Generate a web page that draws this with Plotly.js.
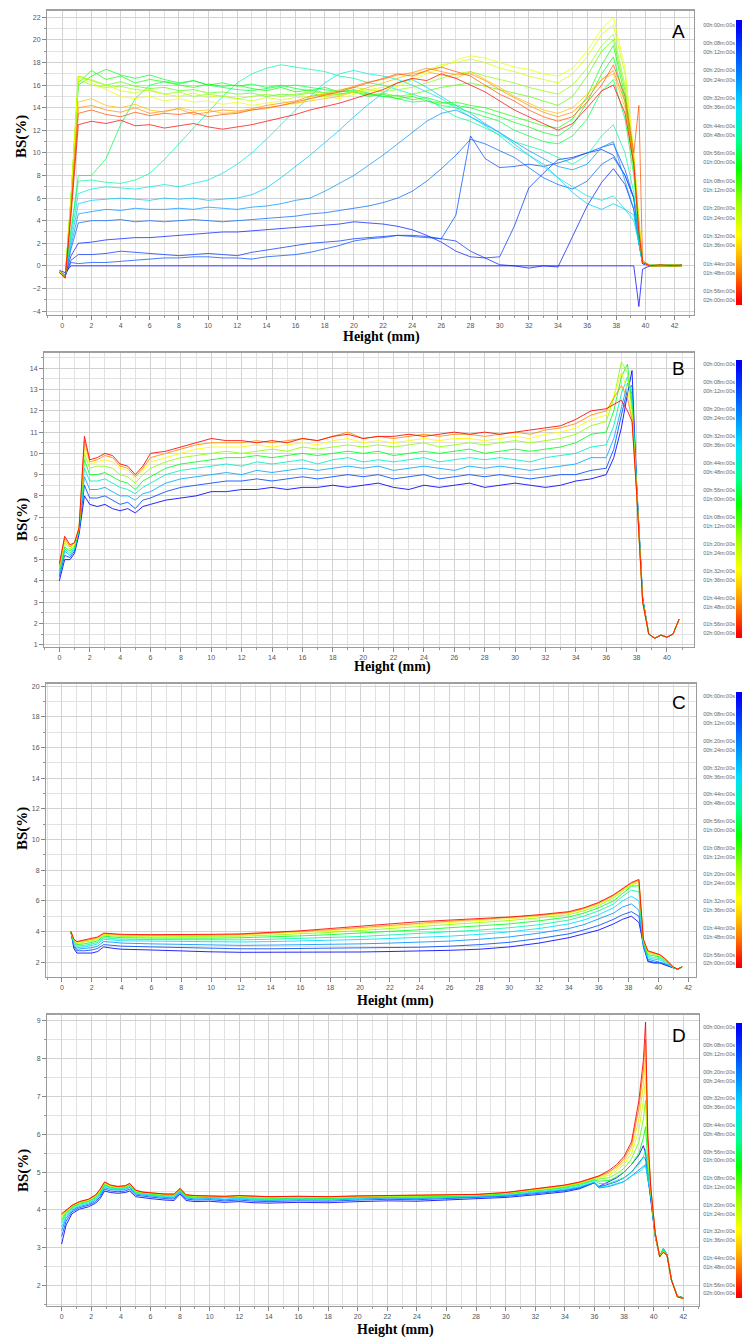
<!DOCTYPE html>
<html><head><meta charset="utf-8">
<script src="https://cdn.plot.ly/plotly-3.0.1.min.js"></script>
<style>html,body{margin:0;padding:0;background:#fff}#chart{width:742px;height:1339px}</style>
</head><body><div id="chart"></div>
<script>
// ---------------- colour-bar legend (time labels, minutes) ----------------
const TIME_LABEL_MIN = [0,8,12,20,24,32,36,44,48,56,60,68,72,80,84,92,96,104,108,116,120];
const TIME_LABELS = ['00h:00m:00s','00h:08m:00s','00h:12m:00s','00h:20m:00s','00h:24m:00s','00h:32m:00s','00h:36m:00s','00h:44m:00s','00h:48m:00s','00h:56m:00s','01h:00m:00s','01h:08m:00s','01h:12m:00s','01h:20m:00s','01h:24m:00s','01h:32m:00s','01h:36m:00s','01h:44m:00s','01h:48m:00s','01h:56m:00s','02h:00m:00s'];

// ---------------- Panel A ----------------
const A_X = [-0.2,0.2,0.6,1.1, 2,3,4,5,6,7,8,9,10,11, 12,13,14,15,16,17,18,19,20,21, 22,23,24,25,26,27,28,29,30,31, 32,33,34,35,36,37, 37.8,38.6,39.2,39.55,39.8,40.3,41,42,42.5];
const A_T = [0,4,8,12,16,24,32,40,48,56,60,64,70,76,84,88,100,106,112,120];
const A_Y_T0 = [-0.4,-0.6,0,0, 0,0,0,0,0,0,0,0,0,0, 0,0,0,0,0,0,0,0,0,0, 0,0,0,0,0,0,0,0,0,0, 0,0,0,0,0,0, 0,0,0,-3.6,-0.3,0,0,0,0];
const A_Y_T4 = [-0.5,-0.8,0.9,2.0, 2.1,2.3,2.4,2.5,2.5,2.6,2.7,2.8,2.9,3.0, 3.0,3.1,3.2,3.3,3.4,3.5,3.6,3.7,3.9,3.8, 3.7,3.5,3.2,2.7,2.1,1.3,0.8,0.7,0.1,0.0, -0.2,0.0,-0.1,2.6,5.3,7.4, 8.6,7.2,5.0,2.0,0.2,0.1,0,0.1,0];
const A_Y_T8 = [-0.5,-0.9,0.5,1.0, 1.0,1.1,1.3,1.2,1.1,1.0,0.9,1.0,1.1,1.0, 0.9,1.2,1.4,1.6,1.8,2.0,2.1,2.2,2.4,2.5, 2.6,2.7,2.7,2.6,2.4,2.2,1.3,0.7,0.8,3.5, 6.9,8.2,9.4,9.6,10.0,10.3, 9.8,8.0,6.0,2.5,0.2,0,0,0.1,0];
const A_Y_T12 = [-0.5,-0.9,0.3,0.2, 0.3,0.3,0.4,0.5,0.6,0.7,0.7,0.8,0.8,0.7, 0.7,0.6,0.8,0.9,1.0,1.2,1.5,1.8,2.2,2.4, 2.5,2.7,2.6,2.5,2.4,4.5,11.5,9.5,8.7,8.8, 9.0,8.8,9.1,9.5,10.0,10.5, 10.8,8.5,6.0,2.5,0.2,0,0.1,0,0];
const A_Y_T16 = [-0.5,-0.9,1.5,3.8, 4.0,4.0,4.1,3.9,4.0,3.9,4.0,4.1,4.0,3.9, 4.0,4.1,4.2,4.3,4.4,4.6,4.7,4.9,5.1,5.3, 5.6,6.0,6.6,7.5,8.6,9.8,11.2,10.8,10.2,9.6, 8.7,7.8,7.2,6.8,7.5,9.0, 9.6,8.0,6.0,2.5,0.3,0,0,0,0.1];
const A_Y_T24 = [-0.5,-0.9,1.8,4.6, 4.8,5.0,4.9,5.1,5.0,5.0,5.1,5.0,5.2,5.1, 5.0,5.2,5.3,5.5,5.8,6.0,6.6,7.3,8.0,8.9, 9.8,10.8,11.8,12.8,13.5,13.8,13.2,12.5,11.8,11.0, 10.2,9.5,8.8,8.5,9.0,10.5, 11.0,7.5,5.0,2.0,0.3,0.1,0,0,0];
const A_Y_T32 = [-0.5,-0.9,2.2,5.5, 5.8,5.9,6.0,5.9,5.8,6.0,5.9,6.0,5.8,5.9, 6.0,6.3,6.9,7.8,8.8,9.8,10.9,12.0,13.2,14.3, 15.3,16.2,16.5,15.8,15.0,14.2,13.5,12.6,11.8,10.8, 9.8,9.0,7.8,6.5,5.5,5.0, 5.5,5.0,4.5,2.0,0.3,0,0,0,0];
const A_Y_T40 = [-0.5,-0.9,2.6,6.4, 6.8,7.0,6.9,6.8,7.0,7.2,7.0,7.3,7.6,8.2, 9.0,10.0,11.2,12.5,13.8,15.0,16.2,17.0,17.3,17.0, 16.8,16.5,16.0,15.4,14.8,14.0,13.2,12.4,11.5,10.5, 9.8,8.8,7.8,7.0,6.2,5.8, 6.2,5.0,4.0,2.0,0.3,0,0,0,0];
const A_Y_T48 = [-0.5,-0.9,3.0,7.5, 7.6,7.4,7.3,7.6,8.2,9.4,10.8,12.2,13.6,15.0, 16.2,17.0,17.5,17.8,17.6,17.4,17.2,16.8,16.6,16.2, 16.0,15.6,15.2,14.8,14.0,13.2,12.8,12.2,11.6,11.0, 10.6,10.2,9.6,9.0,9.8,11.5, 12.5,10.0,6.5,2.5,0.3,0,0,0.1,0];
const A_Y_T56 = [-0.5,-0.9,3.2,8.0, 8.0,9.5,12.5,14.8,16.0,16.3,16.1,16.4,16.0,15.8, 15.6,15.5,15.7,15.9,16.0,15.8,15.6,15.4,15.6,15.3, 15.0,14.8,14.5,14.6,14.2,14.0,13.6,13.2,12.8,12.0, 11.5,11.0,10.8,11.5,13.0,15.5, 16.5,13.0,8.0,3.0,0.3,0.1,0,0,0.1];
const A_Y_T60 = [-0.5,-1.0,5.8,16.0, 16.8,17.4,16.9,16.6,16.9,16.5,16.2,16.4,16.0,16.2, 15.9,16.1,15.8,16.0,15.7,15.5,15.8,15.4,15.5,15.2, 15.0,15.1,14.7,14.9,14.5,14.2,14.0,13.6,13.2,12.7, 12.3,11.8,11.5,12.4,14.5,17.0, 18.5,14.5,8.5,3.2,0.3,0,0,0.1,0];
const A_Y_T64 = [-0.5,-1.0,6.0,16.2, 17.3,16.5,16.8,16.2,16.5,16.3,16.0,15.8,16.1,15.9, 16.0,15.7,15.5,15.8,15.4,15.6,15.3,15.2,15.4,15.0, 15.2,14.8,15.0,14.6,14.4,14.5,14.2,14.0,13.6,13.2, 12.8,12.4,12.2,13.0,15.0,17.8, 19.5,15.0,9.0,3.5,0.3,0,0.1,0,0];
const A_Y_T70 = [-0.5,-1.0,6.2,16.8, 16.4,16.0,16.3,15.9,15.7,15.8,15.5,15.6,15.3,15.4, 15.2,15.3,15.0,15.2,15.1,15.3,15.0,15.2,15.4,15.1, 15.3,15.0,15.2,15.5,15.8,16.0,16.2,15.9,15.6,15.3, 15.0,14.6,14.2,15.0,16.8,19.0, 20.0,15.5,9.2,3.5,0.3,0,0,0,0];
const A_Y_T76 = [-0.5,-1.0,6.0,16.5, 16.0,15.8,15.9,15.6,15.5,15.2,15.4,15.0,15.2,15.0, 14.8,15.0,15.2,15.0,15.2,15.4,15.3,15.6,15.8,15.6, 15.4,15.6,15.8,16.2,16.6,17.0,17.2,16.8,16.5,16.2, 15.8,15.5,15.2,16.0,17.5,19.5, 20.5,16.0,9.5,3.5,0.3,0,0,0.1,0];
const A_Y_T84 = [-0.5,-1.0,6.0,16.8, 16.5,16.0,15.5,15.3,15.6,15.2,15.0,15.3,14.9,15.1, 14.8,14.6,14.9,14.7,14.9,15.0,15.2,15.1,15.4,15.6, 15.8,16.2,16.6,17.3,17.8,18.0,18.3,18.0,17.5,17.2, 16.8,16.5,16.2,17.0,18.5,20.5, 21.3,17.0,9.8,3.8,0.3,0,0.1,0,0];
const A_Y_T88 = [-0.5,-1.0,6.0,16.7, 16.2,15.6,15.0,14.8,15.0,14.6,14.8,14.5,14.6,14.3, 14.5,14.2,14.4,14.6,14.3,14.8,15.0,14.8,15.2,15.5, 15.6,15.9,16.4,17.0,17.6,18.2,18.6,18.4,18.0,17.6, 17.4,17.0,16.8,17.5,19.0,21.0, 22.0,17.5,10.0,4.0,0.3,0.1,0,0,0];
const A_Y_T100 = [-0.6,-1.0,5.5,14.5, 14.8,14.2,14.0,14.3,13.8,13.6,14.0,13.7,13.8,13.5, 13.6,13.8,13.9,14.2,14.4,14.6,14.8,15.0,15.4,15.8, 16.2,16.6,17.0,17.2,16.9,16.6,17.2,16.5,15.8,15.0, 14.4,13.8,13.5,14.0,15.2,16.5, 17.0,14.0,9.0,3.5,0.3,0,0,0,0.1];
const A_Y_T106 = [-0.6,-1.0,5.2,14.0, 14.2,13.8,13.6,14.0,13.5,13.7,13.9,13.4,13.6,13.8, 13.7,13.9,14.2,14.4,14.6,15.0,15.2,15.5,15.9,16.3, 16.5,16.9,17.1,17.5,17.2,16.9,17.0,16.4,15.6,14.9, 14.2,13.6,13.2,13.6,14.8,16.5, 17.3,14.5,9.5,3.2,0.3,0,0,0.1,0];
const A_Y_T112 = [-0.6,-1.0,5.0,13.5, 13.8,13.4,13.2,13.6,13.3,13.5,13.4,13.6,13.2,13.4, 13.5,13.8,14.0,14.2,14.5,14.8,15.1,15.4,15.8,16.2, 16.6,17.0,16.8,17.3,17.6,17.2,16.8,16.0,15.2,14.6, 13.8,13.2,12.8,13.2,14.5,16.0, 17.8,15.0,10.0,14.2,0.5,0,0,0,0];
const A_Y_T120 = [-0.6,-1.1,4.5,12.5, 12.8,12.6,12.9,12.4,12.5,12.2,12.4,12.6,12.3,12.1, 12.3,12.5,12.8,13.1,13.4,13.8,14.1,14.4,14.8,15.2, 15.6,16.2,16.6,16.4,17.0,16.6,16.0,15.4,14.6,13.8, 13.2,12.6,12.0,12.6,14.0,15.5, 16.0,13.5,9.0,3.0,0.3,0,0.1,0,0.1];

// ---------------- Panel B ----------------
const B_X = [0,0.35,0.7,1.0,1.3,1.65,2,2.5,3,3.5,4,4.5,5,5.5,6, 7,8,9,10,11,12,13,14,15,16,17,18,19,20,21,22,23,24,25,26,27,28,29,30,31,32,33,34,35, 36,36.5,37,37.4,37.7,38,38.4,38.8,39.2,39.6,40,40.4,40.8];
const B_T = [0,12,28,44,60,76,92,106,120];
const B_Y_T0 = [4.0,5.0,5.0,5.3,6.2,8.0,7.6,7.5,7.6,7.4,7.3,7.4,7.2,7.5,7.6, 7.8,7.9,8.0,8.2,8.2,8.3,8.3,8.4,8.3,8.4,8.4,8.5,8.4,8.5,8.6,8.4,8.3,8.5,8.4,8.5,8.6,8.4,8.5,8.6,8.5,8.4,8.5,8.7,8.8, 9.0,9.8,11.2,12.8,13.9,8.6,3.2,1.5,1.3,1.45,1.35,1.5,2.2];
const B_Y_T12 = [4.2,5.2,5.1,5.4,6.3,8.5,7.9,7.9,8.0,7.8,7.6,7.7,7.4,7.8,7.9, 8.2,8.4,8.5,8.6,8.7,8.7,8.8,8.7,8.8,8.9,8.8,8.9,9.0,8.9,9.0,8.8,8.9,9.0,8.8,8.9,9.0,8.9,9.0,8.9,8.8,8.9,9.0,9.0,9.2, 9.3,10.2,11.8,13.0,13.2,8.5,3.2,1.5,1.3,1.45,1.35,1.5,2.2];
const B_Y_T28 = [4.3,5.4,5.2,5.5,6.4,8.9,8.3,8.3,8.4,8.2,8.0,8.0,7.8,8.1,8.2, 8.6,8.8,8.9,9.0,9.1,9.0,9.2,9.1,9.2,9.3,9.2,9.3,9.4,9.3,9.4,9.2,9.3,9.4,9.3,9.2,9.4,9.3,9.4,9.3,9.2,9.3,9.4,9.5,9.8, 9.8,10.7,12.2,13.3,12.8,8.5,3.1,1.5,1.3,1.45,1.35,1.5,2.2];
const B_Y_T44 = [4.4,5.5,5.3,5.5,6.4,9.3,8.7,8.7,8.8,8.6,8.4,8.3,8.1,8.4,8.6, 9.0,9.2,9.3,9.4,9.5,9.4,9.6,9.5,9.6,9.7,9.5,9.7,9.8,9.6,9.7,9.6,9.7,9.8,9.6,9.7,9.8,9.7,9.8,9.7,9.6,9.8,9.9,10.0,10.3, 10.4,11.3,12.8,13.6,12.5,8.4,3.1,1.5,1.3,1.45,1.35,1.5,2.2];
const B_Y_T60 = [4.5,5.6,5.4,5.6,6.5,9.7,9.0,9.0,9.1,8.9,8.7,8.6,8.3,8.7,8.9, 9.3,9.5,9.6,9.7,9.8,9.8,9.9,9.8,9.9,10.0,9.9,10.0,10.1,10.0,10.1,9.9,10.0,10.1,10.0,10.1,10.2,10.0,10.1,10.2,10.1,10.2,10.3,10.5,10.9, 11.0,12.0,13.6,14.2,12.2,8.4,3.1,1.5,1.3,1.45,1.35,1.5,2.2];
const B_Y_T76 = [4.6,5.8,5.5,5.7,6.5,10.0,9.3,9.4,9.4,9.3,9.0,8.9,8.6,9.0,9.3, 9.6,9.8,9.9,10.0,10.1,10.0,10.1,10.2,10.1,10.3,10.2,10.3,10.4,10.3,10.4,10.3,10.4,10.5,10.3,10.4,10.5,10.4,10.5,10.6,10.5,10.6,10.7,10.9,11.3, 11.5,12.6,14.3,13.8,12.0,8.3,3.0,1.5,1.3,1.45,1.35,1.5,2.2];
const B_Y_T92 = [4.7,5.9,5.6,5.7,6.5,10.3,9.5,9.6,9.7,9.6,9.3,9.2,8.8,9.2,9.6, 9.8,10.0,10.2,10.3,10.3,10.3,10.4,10.3,10.4,10.5,10.4,10.6,10.7,10.5,10.6,10.5,10.6,10.7,10.6,10.7,10.7,10.6,10.7,10.8,10.7,10.9,11.0,11.2,11.6, 11.8,12.7,13.8,13.0,11.8,8.3,3.0,1.5,1.3,1.45,1.35,1.5,2.2];
const B_Y_T106 = [4.7,6.0,5.6,5.8,6.5,10.6,9.6,9.7,9.9,9.8,9.4,9.3,8.9,9.3,9.8, 10.0,10.2,10.4,10.5,10.5,10.5,10.6,10.5,10.6,10.7,10.6,10.8,11.0,10.7,10.8,10.7,10.8,10.9,10.8,10.9,10.9,10.8,10.9,11.0,10.9,11.1,11.2,11.4,11.8, 12.0,12.6,13.2,12.6,11.6,8.2,3.0,1.5,1.3,1.45,1.35,1.5,2.2];
const B_Y_T120 = [4.8,6.1,5.7,5.8,6.5,10.8,9.7,9.8,10.0,9.9,9.5,9.4,9.0,9.4,10.0, 10.1,10.3,10.5,10.7,10.6,10.6,10.5,10.6,10.5,10.7,10.6,10.8,10.9,10.7,10.8,10.8,10.9,10.8,10.9,11.0,10.9,11.0,10.9,11.0,11.1,11.2,11.3,11.6,12.0, 12.1,12.3,12.5,12.0,11.5,8.2,3.0,1.5,1.3,1.45,1.35,1.5,2.2];

// ---------------- Panel C ----------------
const C_X = [0.6,0.8,1.0,1.5,2.0,2.4,2.8,3.5,4, 6,8,10,12,14,16,18,20,22,24,26,28,30,32,34, 35,36,37,37.6,38.2,38.7, 39.0,39.3,39.7,40.1,40.5,41.0,41.3,41.6];
const C_T = [0,12,24,36,48,60,76,92,106,120];
const C_Y_T0 = [4.0,2.9,2.6,2.6,2.6,2.7,3.0,2.9,2.85, 2.8,2.72,2.68,2.65,2.65,2.65,2.66,2.67,2.7,2.72,2.78,2.85,3.0,3.25,3.6, 3.85,4.1,4.5,4.8,5.0,4.6, 3.2,2.05,1.95,1.95,1.8,1.62,1.55,1.7];
const C_Y_T12 = [4.0,3.0,2.75,2.75,2.8,2.9,3.15,3.1,3.05, 3.0,2.95,2.9,2.88,2.88,2.89,2.9,2.92,2.95,2.98,3.05,3.15,3.3,3.55,3.85, 4.1,4.4,4.8,5.1,5.3,5.0, 3.0,2.1,2.0,1.98,1.85,1.63,1.55,1.7];
const C_Y_T24 = [4.0,3.1,2.85,2.9,2.95,3.05,3.35,3.3,3.25, 3.2,3.15,3.12,3.1,3.12,3.14,3.16,3.2,3.25,3.3,3.38,3.5,3.65,3.9,4.2, 4.45,4.8,5.2,5.6,5.8,5.4, 3.1,2.2,2.1,2.05,1.9,1.64,1.55,1.7];
const C_Y_T36 = [4.0,3.2,2.95,3.0,3.1,3.2,3.5,3.45,3.4, 3.38,3.35,3.33,3.32,3.35,3.38,3.42,3.48,3.55,3.62,3.7,3.82,3.98,4.2,4.5, 4.75,5.1,5.55,6.0,6.3,6.0, 3.2,2.3,2.2,2.15,1.98,1.65,1.55,1.7];
const C_Y_T48 = [4.0,3.3,3.05,3.1,3.2,3.3,3.6,3.55,3.5, 3.48,3.46,3.45,3.46,3.5,3.55,3.6,3.68,3.78,3.88,3.98,4.1,4.25,4.45,4.75, 5.0,5.35,5.8,6.3,6.7,6.6, 3.3,2.4,2.3,2.25,2.05,1.66,1.55,1.7];
const C_Y_T60 = [4.0,3.35,3.15,3.2,3.3,3.4,3.7,3.65,3.6, 3.58,3.57,3.57,3.6,3.65,3.72,3.8,3.9,4.0,4.12,4.25,4.38,4.5,4.7,4.95, 5.2,5.55,6.0,6.5,6.95,7.0, 3.35,2.5,2.4,2.35,2.1,1.67,1.55,1.7];
const C_Y_T76 = [4.0,3.4,3.22,3.3,3.38,3.48,3.77,3.72,3.68, 3.66,3.66,3.67,3.7,3.77,3.85,3.95,4.07,4.2,4.35,4.48,4.6,4.72,4.9,5.1, 5.35,5.7,6.2,6.65,7.05,7.2, 3.4,2.6,2.5,2.42,2.15,1.68,1.55,1.7];
const C_Y_T92 = [4.0,3.45,3.28,3.36,3.45,3.55,3.82,3.78,3.74, 3.72,3.72,3.74,3.77,3.85,3.94,4.05,4.18,4.32,4.48,4.6,4.72,4.83,5.0,5.2, 5.45,5.8,6.3,6.72,7.1,7.3, 3.45,2.65,2.55,2.45,2.18,1.69,1.55,1.7];
const C_Y_T106 = [4.0,3.48,3.32,3.4,3.5,3.6,3.86,3.82,3.78, 3.76,3.76,3.78,3.81,3.9,4.0,4.12,4.26,4.41,4.57,4.68,4.79,4.9,5.05,5.25, 5.5,5.85,6.35,6.76,7.15,7.35, 3.48,2.7,2.58,2.48,2.2,1.7,1.55,1.7];
const C_Y_T120 = [4.0,3.5,3.35,3.45,3.55,3.65,3.9,3.85,3.82, 3.8,3.8,3.82,3.85,3.95,4.05,4.2,4.35,4.5,4.65,4.75,4.85,4.95,5.1,5.3, 5.55,5.9,6.4,6.8,7.2,7.4, 3.5,2.75,2.6,2.5,2.2,1.7,1.55,1.7];

// ---------------- Panel D ----------------
const D_X = [0,0.3,0.7,1.2,1.8,2.3,2.6,2.9,3.3,3.8,4.3,4.6,5.0,5.5, 6,7,7.6,8.0,8.4,9,10,11,12,13, 14,16,18,20,22,24,26,28,30,32, 33,34,35,36,36.3,37,37.5,38,38.5,39.0,39.3,39.45, 39.6,39.8,40.1,40.4,40.65,40.9,41.2,41.6,42.0];
const D_T = [0,12,24,36,48,60,72,84,96,108,120];
const D_Y_T0 = [3.1,3.6,3.9,4.02,4.08,4.18,4.3,4.5,4.46,4.44,4.46,4.5,4.35,4.32, 4.3,4.26,4.25,4.42,4.25,4.22,4.23,4.2,4.22,4.19, 4.18,4.2,4.19,4.22,4.24,4.23,4.26,4.28,4.33,4.4, 4.44,4.48,4.56,4.72,4.62,4.75,4.85,5.0,5.2,5.45,5.7,5.5, 5.0,4.3,3.3,2.78,2.96,2.82,2.15,1.72,1.68];
const D_Y_T12 = [3.3,3.7,3.95,4.06,4.12,4.22,4.35,4.55,4.5,4.48,4.5,4.55,4.39,4.36, 4.34,4.3,4.29,4.46,4.29,4.26,4.27,4.24,4.26,4.23, 4.22,4.24,4.23,4.26,4.28,4.27,4.3,4.32,4.36,4.43, 4.47,4.51,4.58,4.72,4.6,4.68,4.75,4.85,5.0,5.25,5.4,5.35, 4.9,4.35,3.32,2.78,2.97,2.82,2.15,1.72,1.68];
const D_Y_T24 = [3.45,3.78,3.99,4.09,4.15,4.26,4.39,4.59,4.54,4.52,4.54,4.59,4.42,4.39, 4.37,4.33,4.32,4.49,4.32,4.29,4.3,4.27,4.29,4.26, 4.25,4.27,4.26,4.29,4.31,4.3,4.32,4.34,4.38,4.45, 4.49,4.53,4.6,4.72,4.58,4.62,4.68,4.75,4.9,5.05,5.15,5.2, 4.8,4.4,3.33,2.78,2.98,2.82,2.15,1.72,1.68];
const D_Y_T36 = [3.55,3.83,4.02,4.12,4.18,4.29,4.42,4.62,4.56,4.54,4.56,4.62,4.44,4.41, 4.39,4.35,4.34,4.51,4.34,4.31,4.32,4.29,4.31,4.28, 4.27,4.29,4.28,4.31,4.33,4.32,4.34,4.36,4.4,4.47, 4.51,4.55,4.62,4.74,4.6,4.64,4.7,4.75,4.9,5.0,5.1,5.2, 4.85,4.42,3.34,2.78,2.98,2.82,2.15,1.71,1.67];
const D_Y_T48 = [3.65,3.88,4.05,4.15,4.21,4.32,4.45,4.65,4.58,4.56,4.58,4.64,4.46,4.43, 4.41,4.37,4.36,4.53,4.36,4.33,4.33,4.31,4.33,4.3, 4.29,4.31,4.3,4.32,4.34,4.34,4.35,4.37,4.42,4.49, 4.53,4.58,4.65,4.78,4.7,4.7,4.78,4.85,5.0,5.2,5.4,5.6, 5.0,4.45,3.35,2.77,2.97,2.81,2.15,1.71,1.67];
const D_Y_T60 = [3.72,3.92,4.07,4.17,4.23,4.34,4.47,4.67,4.6,4.58,4.6,4.66,4.48,4.44, 4.42,4.39,4.38,4.54,4.37,4.35,4.34,4.33,4.34,4.32, 4.31,4.32,4.31,4.33,4.35,4.35,4.36,4.38,4.43,4.51, 4.55,4.6,4.68,4.8,4.76,4.78,4.88,5.0,5.2,5.5,5.9,6.2, 5.3,4.5,3.36,2.77,2.94,2.81,2.15,1.71,1.67];
const D_Y_T72 = [3.78,3.95,4.09,4.19,4.25,4.36,4.5,4.69,4.62,4.59,4.61,4.67,4.49,4.45, 4.43,4.4,4.39,4.55,4.38,4.36,4.35,4.34,4.35,4.33, 4.32,4.33,4.32,4.34,4.36,4.36,4.37,4.39,4.44,4.52, 4.56,4.62,4.7,4.82,4.82,4.85,4.96,5.1,5.35,5.8,6.4,6.9, 5.5,4.52,3.37,2.77,2.92,2.8,2.14,1.71,1.67];
const D_Y_T84 = [3.82,3.97,4.1,4.2,4.26,4.37,4.52,4.71,4.63,4.6,4.62,4.68,4.5,4.46, 4.44,4.41,4.4,4.56,4.39,4.37,4.36,4.35,4.36,4.34, 4.33,4.34,4.33,4.35,4.37,4.37,4.38,4.4,4.45,4.53, 4.57,4.63,4.71,4.84,4.85,4.92,5.04,5.2,5.5,6.1,6.9,7.5, 5.6,4.55,3.38,2.77,2.9,2.8,2.14,1.7,1.66];
const D_Y_T96 = [3.86,3.98,4.11,4.21,4.27,4.38,4.53,4.72,4.64,4.61,4.63,4.69,4.51,4.46, 4.44,4.41,4.41,4.56,4.39,4.37,4.36,4.35,4.37,4.35, 4.34,4.35,4.34,4.36,4.37,4.37,4.38,4.4,4.45,4.54, 4.58,4.64,4.72,4.85,4.87,4.97,5.1,5.28,5.62,6.4,7.3,8.0, 5.7,4.57,3.39,2.76,2.89,2.8,2.14,1.7,1.66];
const D_Y_T108 = [3.88,3.99,4.12,4.22,4.28,4.39,4.54,4.73,4.65,4.62,4.64,4.7,4.52,4.47, 4.45,4.42,4.42,4.57,4.4,4.38,4.37,4.36,4.38,4.36, 4.35,4.36,4.35,4.37,4.38,4.38,4.39,4.41,4.46,4.55, 4.59,4.65,4.73,4.86,4.89,5.01,5.15,5.36,5.72,6.7,7.7,8.5, 5.85,4.58,3.4,2.76,2.88,2.8,2.14,1.7,1.66];
const D_Y_T120 = [3.9,4.0,4.12,4.22,4.28,4.4,4.55,4.74,4.66,4.62,4.64,4.7,4.52,4.47, 4.45,4.42,4.42,4.57,4.4,4.38,4.37,4.36,4.38,4.36, 4.35,4.36,4.35,4.37,4.38,4.38,4.39,4.41,4.46,4.55, 4.6,4.66,4.74,4.86,4.9,5.05,5.2,5.42,5.8,6.9,7.96,8.97, 6.0,4.6,3.4,2.76,2.88,2.8,2.14,1.7,1.66];

// ---------------- styling / layout (not data) ----------------
const W = 742, H = 1339;
const SCALE = [[0,'#0000ff'],[0.15,'#0070ff'],[0.3,'#00dcff'],[0.42,'#00ff90'],[0.52,'#00ff00'],[0.65,'#a0ff00'],[0.76,'#ffff00'],[0.88,'#ff9000'],[1,'#ff0000']];
function hex2rgb(h){return [1,3,5].map(i=>parseInt(h.slice(i,i+2),16));}
function colorAt(f){
  f = Math.max(0, Math.min(1, f));
  for (let i = 1; i < SCALE.length; i++) {
    if (f <= SCALE[i][0]) {
      const a = SCALE[i-1], b = SCALE[i];
      const u = (f - a[0]) / (b[0] - a[0]);
      const ca = hex2rgb(a[1]), cb = hex2rgb(b[1]);
      const c = ca.map((v,k)=>Math.round(v + (cb[k]-v)*u));
      return 'rgb(' + c.join(',') + ')';
    }
  }
  return SCALE[SCALE.length-1][1];
}

const PANELS = [
  {letter:'A', X:A_X, T:A_T, Y:[A_Y_T0,A_Y_T4,A_Y_T8,A_Y_T12,A_Y_T16,A_Y_T24,A_Y_T32,A_Y_T40,A_Y_T48,A_Y_T56,A_Y_T60,A_Y_T64,A_Y_T70,A_Y_T76,A_Y_T84,A_Y_T88,A_Y_T100,A_Y_T106,A_Y_T112,A_Y_T120],
   box:[47,694,10,315], xr:[-1.05,43.33], yr:[-4.35,22.65], ydt:2, ymin:1, cb:[20,305], let:[678,32], xt:[381,337], yt:[22,137], op:0.72},
  {letter:'B', X:B_X, T:B_T, Y:[B_Y_T0,B_Y_T12,B_Y_T28,B_Y_T44,B_Y_T60,B_Y_T76,B_Y_T92,B_Y_T106,B_Y_T120],
   box:[44,694,352,647], xr:[-1.01,41.78], yr:[0.89,14.77], ydt:1, ymin:0.5, cb:[360,638], let:[678,369], xt:[392,667], yt:[22,520], op:0.85},
  {letter:'C', X:C_X, T:C_T, Y:[C_Y_T0,C_Y_T12,C_Y_T24,C_Y_T36,C_Y_T48,C_Y_T60,C_Y_T76,C_Y_T92,C_Y_T106,C_Y_T120],
   box:[46,696,683,977], xr:[-1.07,42.53], yr:[1.04,20.2], ydt:2, ymin:1, cb:[692,968], let:[679,702], xt:[395,1001], yt:[22,829], op:0.85},
  {letter:'D', X:D_X, T:D_T, Y:[D_Y_T0,D_Y_T12,D_Y_T24,D_Y_T36,D_Y_T48,D_Y_T60,D_Y_T72,D_Y_T84,D_Y_T96,D_Y_T108,D_Y_T120],
   box:[47,699,1014,1306], xr:[-0.99,43.06], yr:[1.46,9.18], ydt:1, ymin:0.5, cb:[1023,1298], let:[679,1035], xt:[395,1330], yt:[23,1171], op:0.85}
];

const traces = [];
const layout = {
  width: W, height: H, margin:{l:0,r:0,t:0,b:0},
  paper_bgcolor:'#fff', plot_bgcolor:'#fff', showlegend:false, hovermode:false,
  font:{family:'Arial, Liberation Sans, sans-serif'},
  annotations: [], shapes: []
};
const serif = 'Liberation Serif, Times New Roman, serif';

PANELS.forEach((p, i) => {
  const n = i + 1, m = i + 5;
  const [l, r, t, b] = p.box;
  const xs = n === 1 ? '' : String(n);
  layout['xaxis' + xs] = {
    domain:[l/W, r/W], range:p.xr, anchor:'y' + xs, tick0:0, dtick:2,
    ticks:'outside', ticklen:4, tickcolor:'#888', tickfont:{size:7, color:'#555'},
    showgrid:true, gridcolor:'#d2d2d2', gridwidth:1, zeroline:false,
    minor:{dtick:1, tick0:0, showgrid:true, gridcolor:'#e2e2e2', ticks:'outside', ticklen:2, tickcolor:'#999'},
    showline:true, linecolor:'#9a9a9a', linewidth:1, mirror:true, fixedrange:true
  };
  layout['yaxis' + xs] = {
    domain:[1 - b/H, 1 - t/H], range:p.yr, anchor:'x' + xs, tick0:0, dtick:p.ydt,
    ticks:'outside', ticklen:4, tickcolor:'#888', tickfont:{size:7, color:'#555'},
    showgrid:true, gridcolor:'#d2d2d2', gridwidth:1, zeroline:false,
    minor:{dtick:p.ymin, tick0:0, showgrid:true, gridcolor:'#e2e2e2', ticks:'outside', ticklen:2, tickcolor:'#999'},
    showline:true, linecolor:'#9a9a9a', linewidth:1, mirror:true, fixedrange:true
  };
  layout.shapes.push({type:'line', xref:'paper', yref:'paper', x0:l/W, x1:r/W, y0:1 - t/H, y1:1 - t/H, line:{color:'#a0a0a0', width:2}});

  p.Y.forEach((ys, k) => {
    traces.push({type:'scatter', mode:'lines', x:p.X, y:ys, xaxis:'x' + xs, yaxis:'y' + xs,
      line:{color:colorAt(p.T[k] / 120), width:1}, opacity:p.op, hoverinfo:'skip'});
  });

  layout['xaxis' + m] = {domain:[736/W, 1], range:[-0.5, 1.5], anchor:'y' + m, visible:false, fixedrange:true};
  layout['yaxis' + m] = {domain:[1 - p.cb[1]/H, 1 - p.cb[0]/H], range:[122, -2], anchor:'x' + m, side:'left',
    tickmode:'array', tickvals:TIME_LABEL_MIN, ticktext:TIME_LABELS, ticks:'', showgrid:false, zeroline:false,
    showline:false, tickfont:{size:5.5, color:'#666'}, fixedrange:true};
  traces.push({type:'heatmap', x:[0,1], y:TIME_LABEL_MIN, z:TIME_LABEL_MIN.map(v => [v, v]),
    zmin:0, zmax:120, colorscale:SCALE, zsmooth:'best', showscale:false, xaxis:'x' + m, yaxis:'y' + m, hoverinfo:'skip'});

  layout.annotations.push({xref:'paper', yref:'paper', x:p.let[0]/W, y:1 - p.let[1]/H, text:p.letter, showarrow:false,
    xanchor:'center', yanchor:'middle', font:{size:19, color:'#000', family:'Arial, Liberation Sans, sans-serif'}});
  layout.annotations.push({xref:'paper', yref:'paper', x:p.xt[0]/W, y:1 - p.xt[1]/H, text:'<b>Height (mm)</b>', showarrow:false,
    xanchor:'center', yanchor:'middle', font:{size:14, color:'#000', family:serif}});
  layout.annotations.push({xref:'paper', yref:'paper', x:p.yt[0]/W, y:1 - p.yt[1]/H, text:'<b>BS(%)</b>', showarrow:false,
    textangle:-90, xanchor:'center', yanchor:'middle', font:{size:15, color:'#000', family:serif}});
});

Plotly.newPlot('chart', traces, layout, {displayModeBar:false, staticPlot:true});
</script>
</body></html>
